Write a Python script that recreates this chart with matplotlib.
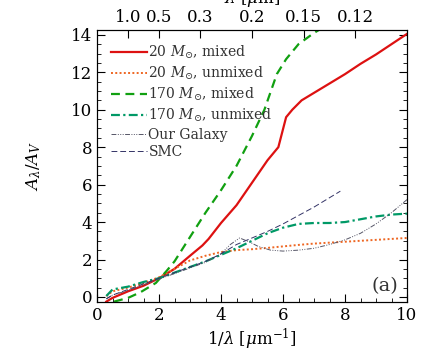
import matplotlib
matplotlib.use("Agg")
import matplotlib.pyplot as plt
from matplotlib.ticker import MultipleLocator

plt.rcParams['font.family'] = 'DejaVu Serif'
plt.rcParams['mathtext.fontset'] = 'dejavuserif'

# 20 Msun, mixed
x_m20 = [0.3, 0.5, 1.0, 1.5, 2.0, 2.5, 3.0, 3.4, 3.6, 4.0, 4.5, 5.0, 5.5, 5.85, 6.1, 6.3, 6.6, 7.0, 7.5, 8.0, 8.5, 9.0, 9.5, 10.0]
y_m20 = [-0.25, -0.05, 0.3, 0.6, 1.0, 1.5, 2.2, 2.75, 3.1, 3.95, 4.9, 6.1, 7.3, 8.0, 9.6, 10.0, 10.5, 10.9, 11.4, 11.9, 12.45, 12.95, 13.5, 14.05]

# 20 Msun, unmixed
x_u20 = [0.3, 0.5, 1.0, 1.5, 2.0, 2.5, 3.0, 3.5, 4.0, 4.5, 5.0, 5.5, 6.0, 6.5, 7.0, 7.5, 8.0, 8.5, 9.0, 9.5, 10.0]
y_u20 = [0.05, 0.3, 0.5, 0.75, 1.05, 1.5, 1.95, 2.2, 2.4, 2.5, 2.55, 2.62, 2.7, 2.78, 2.85, 2.9, 2.95, 3.0, 3.05, 3.1, 3.15]

# 170 Msun, mixed
x_m170 = [0.55, 1.0, 1.4, 1.9, 2.25, 2.5, 3.0, 3.5, 4.0, 4.5, 5.0, 5.4, 5.8, 6.1, 6.5, 7.0, 7.2]
y_m170 = [-0.25, -0.05, 0.25, 0.75, 1.4, 1.9, 3.2, 4.5, 5.7, 7.0, 8.6, 10.0, 11.9, 12.7, 13.5, 14.1, 14.3]

# 170 Msun, unmixed
x_u170 = [0.3, 0.5, 1.0, 1.5, 2.0, 2.5, 3.0, 3.5, 4.0, 4.5, 5.0, 5.5, 6.0, 6.5, 7.0, 7.5, 8.0, 8.5, 9.0, 9.5, 10.0]
y_u170 = [0.05, 0.4, 0.55, 0.8, 1.0, 1.3, 1.6, 1.9, 2.25, 2.6, 3.0, 3.4, 3.7, 3.9, 3.95, 3.95, 4.0, 4.15, 4.3, 4.4, 4.45]

# Our Galaxy
x_gal = [0.3, 0.5, 1.0, 1.5, 2.0, 2.5, 3.0, 3.5, 4.0, 4.3, 4.6, 4.9, 5.2, 5.6, 6.0, 6.5, 7.0, 7.5, 8.0, 8.5, 9.0, 9.5, 10.0]
y_gal = [-0.1, 0.1, 0.35, 0.65, 0.95, 1.25, 1.55, 1.85, 2.3, 2.8, 3.15, 2.95, 2.7, 2.5, 2.45, 2.5, 2.6, 2.8, 3.05, 3.4, 3.9, 4.5, 5.2]

# SMC
x_smc = [0.3, 0.5, 1.0, 1.5, 2.0, 2.5, 3.0, 3.5, 4.0, 4.5, 5.0, 5.5, 6.0, 6.5, 7.0, 7.5, 7.85]
y_smc = [-0.1, 0.1, 0.4, 0.7, 1.0, 1.3, 1.6, 1.9, 2.3, 2.8, 3.15, 3.5, 3.9, 4.35, 4.8, 5.3, 5.65]

top_labels = ['1.0', '0.5', '0.3', '0.2', '0.15', '0.12']
top_lam = [1.0, 0.5, 0.3, 0.2, 0.15, 0.12]

fig = plt.figure(figsize=(4.36, 3.63), dpi=100)
ax = fig.add_axes([0.2225, 0.168, 0.711, 0.749])

ax.plot(x_m20, y_m20, color='#dd1111', lw=1.6, ls='-', label=r'20 $M_{\odot}$, mixed')
ax.plot(x_u20, y_u20, color='#ee6622', lw=1.4, ls=(0, (1, 1.2)), label=r'20 $M_{\odot}$, unmixed')
ax.plot(x_m170, y_m170, color='#11a011', lw=1.6, ls=(0, (4, 2.5)), label=r'170 $M_{\odot}$, mixed')
ax.plot(x_u170, y_u170, color='#009966', lw=1.6, ls=(0, (4, 1.5, 1, 1.5)), label=r'170 $M_{\odot}$, unmixed')
ax.plot(x_gal, y_gal, color='#555566', lw=0.7, ls=(0, (5, 1.5, 1, 1.5, 1, 1.5, 1, 1.5)), label='Our Galaxy')
ax.plot(x_smc, y_smc, color='#333366', lw=0.7, ls=(0, (6, 3)), label='SMC')

ax.set_xlim(0, 10)
ax.set_ylim(-0.27, 14.25)
ax.xaxis.set_major_locator(MultipleLocator(2))
ax.xaxis.set_minor_locator(MultipleLocator(0.5))
ax.yaxis.set_major_locator(MultipleLocator(2))
ax.yaxis.set_minor_locator(MultipleLocator(0.5))
ax.tick_params(which='both', direction='in', right=True, labelsize=12)
ax.tick_params(which='major', length=6)
ax.tick_params(which='minor', length=3)

ax.set_xlabel(r'1/$\lambda$ [$\mu$m$^{-1}$]', fontsize=12, labelpad=2)
ax.set_ylabel(r'$A_{\lambda}/A_{V}$', fontsize=12, labelpad=20)

top = ax.twiny()
top.set_xlim(ax.get_xlim())
top.set_xticks([1.0 / l for l in top_lam])
top.set_xticklabels(top_labels)
top.tick_params(direction='in', labelsize=12, length=6, pad=3)
top.set_xlabel(r'$\lambda$ [$\mu$m]', fontsize=12, labelpad=4)

ax.text(9.3, 0.1, '(a)', fontsize=14, ha='center', va='bottom', color='#333333')

ax.legend(loc='upper left', frameon=False, fontsize=10, handlelength=2.6,
          handletextpad=0.1, labelspacing=0.25, borderaxespad=0.6,
          labelcolor='#333333')

fig.savefig('out.png', dpi=100)
